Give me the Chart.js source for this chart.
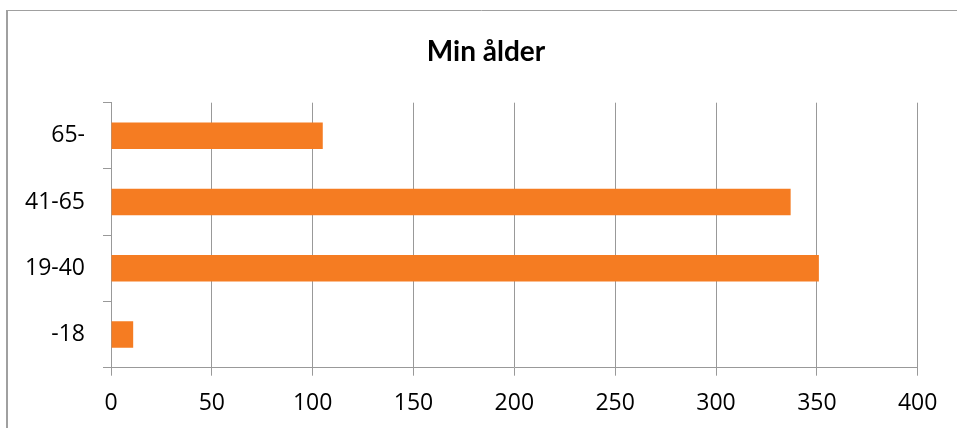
<!DOCTYPE html>
<html>
<head>
<meta charset="utf-8">
<script src="https://cdn.jsdelivr.net/npm/chart.js@4/dist/chart.umd.min.js"></script>
<style>
  html, body { margin: 0; padding: 0; background: #fff; }
  canvas { display: block; }
</style>
</head>
<body>
<canvas id="c" width="957" height="428"></canvas>
<script>
// Age groups, bottom to top, and respondent counts
const categories = ['-18', '19-40', '41-65', '65-'];
const counts = [11, 351, 337, 105];
const xTicks = [0, 50, 100, 150, 200, 250, 300, 350, 400];
const chartTitle = 'Min ålder';

const GRID = '#999999';
const BAR = '#f57c22';
const TICK_FONT = '"Open Sans", Lato, "Liberation Sans", sans-serif';
const TITLE_FONT = 'Lato, "Open Sans", "Liberation Sans", sans-serif';

// Outer frame of the chart and its centred title
const framePlugin = {
  id: 'frame',
  beforeDraw(chart) {
    const ctx = chart.ctx;
    ctx.save();
    ctx.fillStyle = '#fff';
    ctx.fillRect(0, 0, chart.width, chart.height);
    ctx.strokeStyle = '#a0a0a0';
    ctx.lineWidth = 1;
    ctx.beginPath();
    ctx.moveTo(6, 10.5);
    ctx.lineTo(chart.width, 10.5);
    ctx.stroke();
    ctx.lineWidth = 2;
    ctx.beginPath();
    ctx.moveTo(7, 10);
    ctx.lineTo(7, chart.height);
    ctx.stroke();

    ctx.fillStyle = '#000';
    ctx.font = 'bold 28px ' + TITLE_FONT;
    ctx.textAlign = 'center';
    ctx.textBaseline = 'alphabetic';
    ctx.fillText(chartTitle, 486, 61);
    ctx.restore();
  }
};

new Chart(document.getElementById('c'), {
  type: 'bar',
  data: {
    labels: categories,
    datasets: [{
      label: chartTitle,
      data: counts,
      backgroundColor: BAR,
      borderWidth: 0,
      barPercentage: 0.4,
      categoryPercentage: 1.0
    }]
  },
  plugins: [framePlugin],
  options: {
    indexAxis: 'y',
    responsive: false,
    animation: false,
    layout: { padding: { left: 0, right: 39.3, top: 102.7, bottom: 0 } },
    plugins: {
      legend: { display: false },
      tooltip: { enabled: false },
      title: { display: false }
    },
    scales: {
      x: {
        type: 'linear',
        min: 0,
        max: 400,
        afterBuildTicks(scale) { scale.ticks = xTicks.map(v => ({ value: v })); },
        afterFit(scale) { scale.height = 60.3; },
        grid: { color: GRID, lineWidth: 1, tickLength: 8, drawTicks: true },
        border: { color: GRID, width: 1 },
        ticks: { color: '#000', padding: 14, font: { family: TICK_FONT, size: 23 }, maxRotation: 0 }
      },
      y: {
        reverse: true,
        afterFit(scale) { scale.width = 111; },
        grid: { drawOnChartArea: false, color: GRID, tickLength: 8, offset: true },
        border: { color: GRID, width: 1 },
        ticks: { color: '#000', padding: 18, font: { family: TICK_FONT, size: 23 } }
      }
    }
  }
});
</script>
</body>
</html>
